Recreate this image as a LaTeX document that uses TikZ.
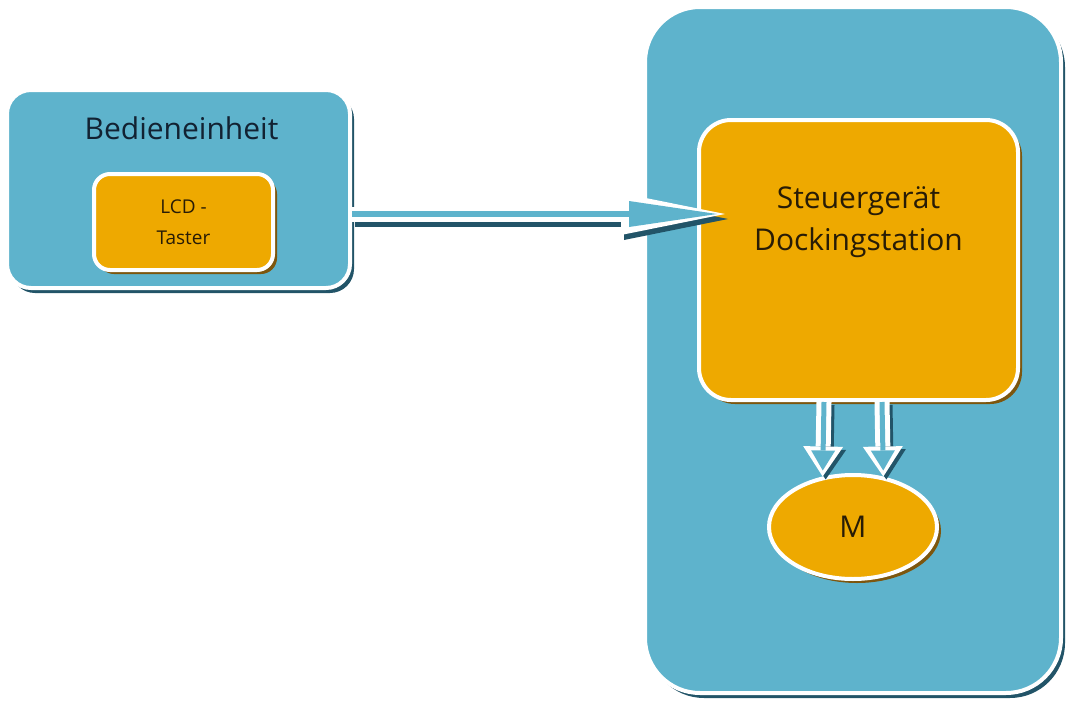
\documentclass[tikz,border=0pt]{standalone}
\usepackage{fontspec}
\setmainfont{Open Sans}
\usetikzlibrary{arrows.meta,positioning,shapes.geometric,shadows}
\definecolor{boxblue}{RGB}{94,179,204}
\definecolor{boxorange}{RGB}{238,169,0}
\definecolor{blueshade}{RGB}{34,84,104}
\definecolor{orangeshade}{RGB}{125,86,14}
\definecolor{titleink}{RGB}{18,34,50}
\definecolor{boxink}{RGB}{40,28,6}

\begin{document}
\begin{tikzpicture}[x=1pt,y=-1pt,
    bluebox/.style={rectangle,rounded corners=#1,fill=boxblue,draw=white,line width=4pt,
      drop shadow={shadow xshift=4pt,shadow yshift=-5pt,fill=blueshade,opacity=1}},
    orangebox/.style={rectangle,rounded corners=#1,fill=boxorange,draw=white,line width=4pt,
      drop shadow={shadow xshift=4pt,shadow yshift=-4pt,fill=orangeshade,opacity=1}},
    longarrow/.style={draw=boxblue,line width=6pt,shorten >=8pt,
      -{Triangle[length=88pt,width=26pt,line width=0pt]},
      preaction={draw=blueshade,line width=15pt,shorten >=0pt,
        -{Triangle[length=104pt,width=42pt,line width=0pt]},
        transform canvas={xshift=3pt,yshift=-5pt}},
      preaction={draw=white,line width=15pt,shorten >=0pt,
        -{Triangle[length=104pt,width=42pt,line width=0pt]}}},
    shortarrow/.style={draw=boxblue,line width=5pt,shorten >=6pt,
      -{Triangle[length=20pt,width=24pt,line width=0pt]},
      preaction={draw=blueshade,line width=15pt,shorten >=0pt,
        -{Triangle[length=30pt,width=40pt,line width=0pt]},
        transform canvas={xshift=3pt,yshift=-3pt}},
      preaction={draw=white,line width=15pt,shorten >=0pt,
        -{Triangle[length=30pt,width=40pt,line width=0pt]}}}]
  \useasboundingbox (0,0) rectangle (1071,704);

  % Bedieneinheit
  \node[bluebox=24pt,minimum width=343pt,minimum height=198pt] (bed) at (178.5,189) {};
  \node[anchor=base,text=titleink,font=\fontsize{30}{36}\selectfont]
    (bedtitle) at ([xshift=3pt,yshift=-51pt]bed.north) {Bedieneinheit};
  \node[orangebox=16pt,minimum width=179pt,minimum height=96pt,text=boxink,
    align=center,font=\fontsize{19}{31}\selectfont] (lcd) at (183.5,222) {LCD -\\Taster};

  % Dockingstation
  \node[bluebox=55pt,minimum width=416pt,minimum height=686pt] (dock) at (853,350) {};
  \node[orangebox=32pt,minimum width=319pt,minimum height=280pt] (steuer) at (858.5,260) {};
  \node[text=boxink,align=center,font=\fontsize{30}{42}\selectfont]
    (steuertext) at ([yshift=38pt]steuer.center) {Steuergerät\\Dockingstation};
  \node[ellipse,fill=boxorange,draw=white,line width=4pt,inner sep=0pt,
    minimum width=168pt,minimum height=104pt,text=boxink,font=\fontsize{30}{36}\selectfont,
    drop shadow={shadow xshift=4pt,shadow yshift=-4pt,fill=orangeshade,opacity=1}]
    (motor) at (853,527) {M};

  \draw[longarrow] ([yshift=-25pt]bed.east) -- ([xshift=28pt,yshift=46pt]steuer.west);
  \draw[shortarrow] ([xshift=-29pt]motor.center |- steuer.south) -- (motor.121);
  \draw[shortarrow] ([xshift=29pt]motor.center |- steuer.south) -- (motor.59);
\end{tikzpicture}
\end{document}
